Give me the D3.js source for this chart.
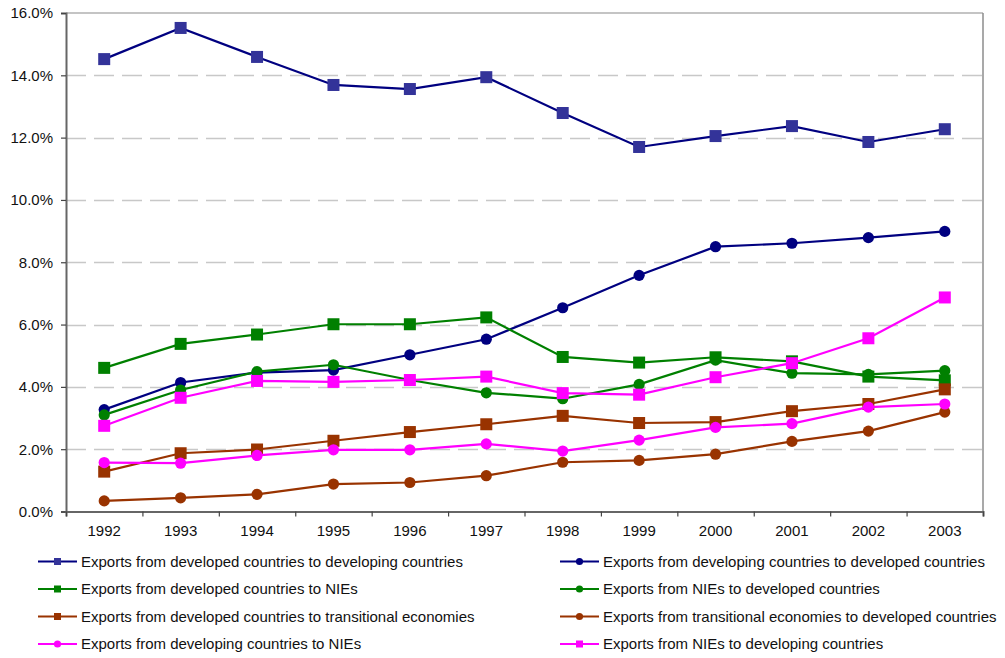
<!DOCTYPE html>
<html>
<head>
<meta charset="utf-8">
<script src="https://cdn.jsdelivr.net/npm/d3@7"></script>
<style>
  html, body { margin: 0; padding: 0; background: #fff; }
  svg { display: block; font-family: "Liberation Sans", Arial, sans-serif; }
</style>
</head>
<body>
<svg id="chart" width="1005" height="658"></svg>
<script>
// Years on the category axis
const years = ["1992", "1993", "1994", "1995", "1996", "1997", "1998", "1999", "2000", "2001", "2002", "2003"];

// Share of world exports (%) for each trade flow
const devToDeveloping   = [14.52, 15.52, 14.59, 13.69, 13.56, 13.94, 12.79, 11.70, 12.05, 12.37, 11.86, 12.27];
const developingToDev   = [3.27, 4.14, 4.46, 4.54, 5.03, 5.53, 6.54, 7.58, 8.50, 8.61, 8.79, 8.99];
const devToNIEs         = [4.61, 5.38, 5.68, 6.01, 6.01, 6.23, 4.96, 4.78, 4.95, 4.82, 4.33, 4.21];
const niesToDev         = [3.10, 3.90, 4.49, 4.71, 4.22, 3.81, 3.62, 4.08, 4.86, 4.44, 4.40, 4.52];
const devToTransitional = [1.28, 1.87, 1.99, 2.27, 2.55, 2.80, 3.07, 2.84, 2.87, 3.22, 3.45, 3.92];
const transitionalToDev = [0.34, 0.44, 0.55, 0.88, 0.93, 1.15, 1.58, 1.64, 1.84, 2.25, 2.58, 3.19];
const developingToNIEs  = [1.57, 1.55, 1.80, 1.98, 1.98, 2.17, 1.94, 2.29, 2.70, 2.82, 3.35, 3.45];
const niesToDeveloping  = [2.75, 3.65, 4.19, 4.16, 4.22, 4.33, 3.80, 3.75, 4.31, 4.76, 5.56, 6.87];

// Y-axis tick values (%)
const yTicks = [0, 2, 4, 6, 8, 10, 12, 14, 16];

const series = [
  { name: "Exports from developed countries to developing countries", values: devToDeveloping,   line: "#000080", fill: "#333399", shape: "square" },
  { name: "Exports from developing countries to developed countries", values: developingToDev,   line: "#000080", fill: "#000080", shape: "circle" },
  { name: "Exports from developed countries to NIEs",                 values: devToNIEs,         line: "#008000", fill: "#008000", shape: "square" },
  { name: "Exports from NIEs to developed countries",                 values: niesToDev,         line: "#008000", fill: "#008000", shape: "circle" },
  { name: "Exports from developed countries to transitional economies", values: devToTransitional, line: "#993300", fill: "#993300", shape: "square" },
  { name: "Exports from transitional economies to developed countries", values: transitionalToDev, line: "#993300", fill: "#993300", shape: "circle" },
  { name: "Exports from developing countries to NIEs",                values: developingToNIEs,  line: "#FF00FF", fill: "#FF00FF", shape: "circle" },
  { name: "Exports from NIEs to developing countries",                values: niesToDeveloping,  line: "#FF00FF", fill: "#FF00FF", shape: "square" }
];

const svg = d3.select("#chart");
const plot = { left: 66, right: 983, top: 13, bottom: 511.5 };

const x = d3.scaleBand().domain(years).range([plot.left, plot.right]).paddingInner(0).paddingOuter(0);
const xEdges = d3.scaleLinear().domain([0, years.length]).range([plot.left, plot.right]);
const y = d3.scaleLinear().domain([0, 16]).range([plot.bottom, plot.top]);
const cx = d => x(d) + x.bandwidth() / 2;

// Dashed horizontal gridlines
svg.append("g")
  .selectAll("line")
  .data(yTicks.filter(t => t > 0 && t < 16))
  .join("line")
  .attr("x1", plot.left).attr("x2", plot.right)
  .attr("y1", d => Math.round(y(d)) + 0.5).attr("y2", d => Math.round(y(d)) + 0.5)
  .attr("stroke", "#c8c8c8")
  .attr("stroke-width", 1.5)
  .attr("stroke-dasharray", "20,8");

// Plot-area frame on top and right
svg.append("line")
  .attr("x1", plot.left).attr("x2", plot.right)
  .attr("y1", plot.top).attr("y2", plot.top)
  .attr("stroke", "#b0b0b0").attr("stroke-width", 1.5);
svg.append("line")
  .attr("x1", plot.right).attr("x2", plot.right)
  .attr("y1", plot.top).attr("y2", plot.bottom)
  .attr("stroke", "#8c8c8c").attr("stroke-width", 1.5);

// Y axis
const yAxis = svg.append("g")
  .attr("transform", `translate(${plot.left},0)`)
  .call(d3.axisLeft(y).tickValues(yTicks).tickSize(5).tickPadding(8)
    .tickFormat(d => d3.format(".1%")(d / 100)));
yAxis.select(".domain").attr("stroke", "#666").attr("stroke-width", 2);
yAxis.selectAll(".tick line").attr("stroke", "#444").attr("stroke-width", 1.2);
yAxis.selectAll(".tick text").attr("font-size", 15).attr("fill", "#111")
  .attr("font-family", "'Liberation Sans', Arial, sans-serif");

// X axis: tick marks at category boundaries
const xTickAxis = svg.append("g")
  .attr("transform", `translate(0,${plot.bottom})`)
  .call(d3.axisBottom(xEdges).tickValues(d3.range(years.length + 1)).tickSize(5).tickFormat(""));
xTickAxis.select(".domain").attr("stroke", "#666").attr("stroke-width", 2);
xTickAxis.selectAll(".tick line").attr("stroke", "#444").attr("stroke-width", 1.2);

// X axis: year labels centred in each category
const xLabelAxis = svg.append("g")
  .attr("transform", `translate(0,${plot.bottom})`)
  .call(d3.axisBottom(x).tickSize(0).tickPadding(14));
xLabelAxis.select(".domain").remove();
xLabelAxis.selectAll(".tick text").attr("font-size", 15).attr("fill", "#111")
  .attr("font-family", "'Liberation Sans', Arial, sans-serif");

// Series lines and markers
const line = d3.line().x((d, i) => cx(years[i])).y(d => y(d));
const SQ = 12, R = 5.6;

function drawMarker(g, s, px, py, size, r) {
  if (s.shape === "square") {
    g.append("rect")
      .attr("x", px - size / 2).attr("y", py - size / 2)
      .attr("width", size).attr("height", size)
      .attr("fill", s.fill);
  } else {
    g.append("circle")
      .attr("cx", px).attr("cy", py).attr("r", r)
      .attr("fill", s.fill);
  }
}

series.forEach(s => {
  const g = svg.append("g");
  g.append("path")
    .datum(s.values)
    .attr("d", line)
    .attr("fill", "none")
    .attr("stroke", s.line)
    .attr("stroke-width", 2.2);
  s.values.forEach((v, i) => drawMarker(g, s, cx(years[i]), y(v), SQ, R));
});

// Legend: two columns, filled row by row
const legendRows = [561.5, 589, 616.5, 644];
const legendCols = [{ x0: 38, x1: 77, tx: 81 }, { x0: 560, x1: 599, tx: 603 }];
series.forEach((s, i) => {
  const col = legendCols[i % 2];
  const ry = legendRows[Math.floor(i / 2)];
  const g = svg.append("g");
  g.append("line")
    .attr("x1", col.x0).attr("x2", col.x1)
    .attr("y1", ry).attr("y2", ry)
    .attr("stroke", s.line).attr("stroke-width", 2.2);
  drawMarker(g, s, (col.x0 + col.x1) / 2, ry, 7, 3.6);
  g.append("text")
    .attr("x", col.tx).attr("y", ry)
    .attr("dy", "0.35em")
    .attr("font-size", 15)
    .attr("fill", "#111")
    .text(s.name);
});
</script>
</body>
</html>
